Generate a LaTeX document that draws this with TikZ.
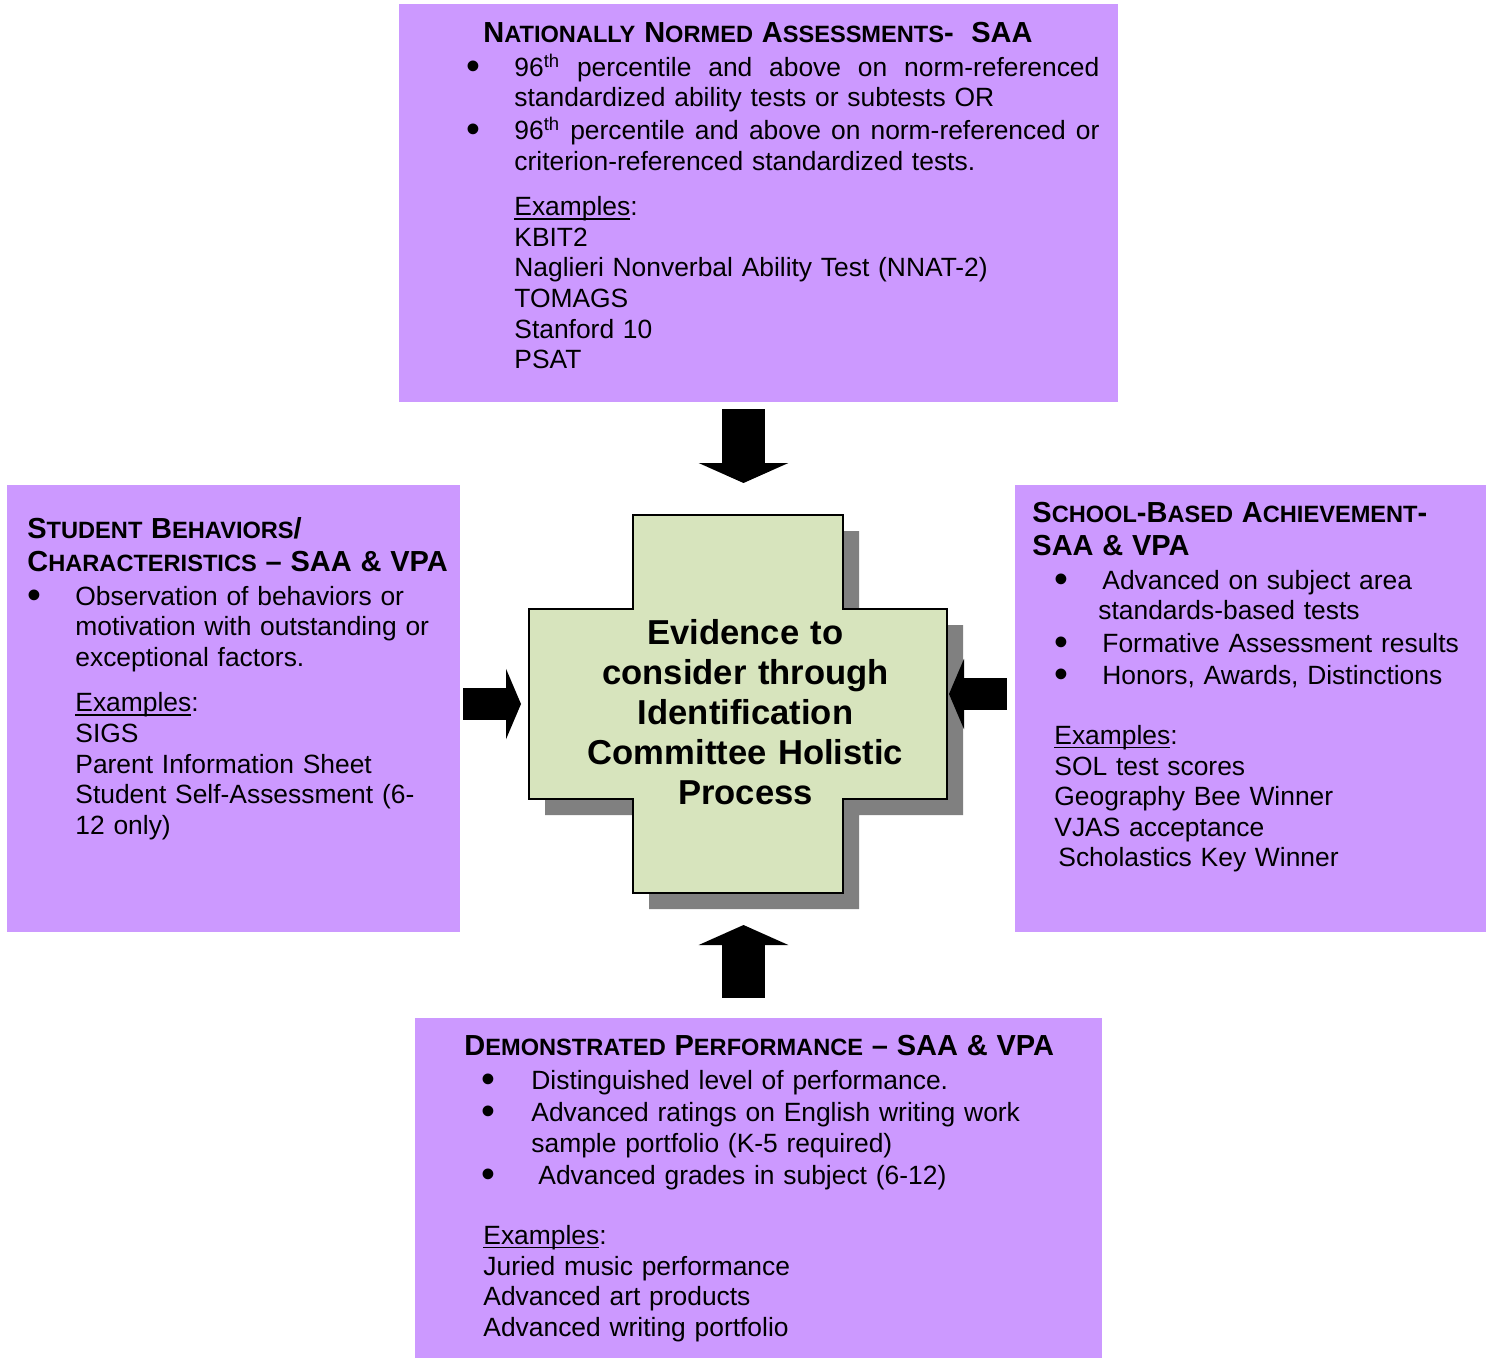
\documentclass[tikz,border=0pt]{standalone}
\usepackage{fontspec}
\setmainfont{Liberation Sans}
\usetikzlibrary{arrows.meta, shadows}
\definecolor{lilac}{HTML}{CC99FF}
\definecolor{sage}{HTML}{D7E4BD}
\definecolor{shadegray}{HTML}{808080}
\hyphenpenalty=10000 \exhyphenpenalty=10000
\newlength{\bulx}
\newlength{\bulind}
\newsavebox{\ulbox}
\newcommand{\ulw}[1]{\sbox{\ulbox}{#1}\rlap{\rule[-2pt]{\wd\ulbox}{0.7pt}}\usebox{\ulbox}}
\newcommand{\bdot}{\kern-2.5pt\smash{\raisebox{-1.5pt}{\scalebox{1.5}{\textbullet}}}}
\newcommand{\fullline}[1]{{\spaceskip=\fontdimen2\font plus 20pt\relax\makebox[\dimexpr\linewidth-\bulind\relax][s]{#1}}}
\newcommand{\sct}[2]{#1{\fontsize{11.8}{16.5}\selectfont #2}}
\newcommand{\ttl}[1]{{\fontsize{14.5}{16.5}\selectfont\bfseries #1\par}\vspace{0.7pt}}
\newcommand{\bitem}[1]{\par\vspace{1pt}\hangindent=\bulind\hangafter=1\noindent\hspace*{\bulx}\makebox[\dimexpr\bulind-\bulx\relax][l]{\bdot}#1\par}
\newcommand{\exblock}[3]{\par\vspace{#2}{\leftskip=#1\relax\noindent\ulw{Examples}:\newline #3\par}}
\tikzstyle{panel} = [rectangle, fill=lilac, draw=none, inner sep=0pt]
\tikzstyle{paneltext} = [anchor=base west, inner sep=0pt, font=\fontsize{13.2}{15.3}\selectfont]
\tikzstyle{crossline} = [draw=black, line width=0.8pt, fill=sage, general shadow={fill=shadegray, shadow xshift=8pt, shadow yshift=-8pt}]
\tikzstyle{evidtext} = [anchor=base, inner sep=0pt, text width=210pt, align=center, font=\bfseries\fontsize{17.3}{20}\selectfont]
\tikzstyle{vblock} = [line width=21.25pt, -{Triangle[length=10pt, width=44.5pt]}]
\tikzstyle{hblock} = [line width=15.75pt, -{Triangle[length=7.5pt, width=35pt]}]
\begin{document}
\begin{tikzpicture}[x=0.5pt, y=-0.5pt]
\useasboundingbox (0,0) rectangle (1491,1360);
% four boxes
\node (nnorm) [panel, minimum width=359.5pt, minimum height=199pt] at (758.5,203) {};
\node (sbeh) [panel, minimum width=226.5pt, minimum height=223.5pt] at (233.5,708.5) {};
\node (sba) [panel, minimum width=235.5pt, minimum height=223.5pt] at (1250.5,708.5) {};
\node (dperf) [panel, minimum width=343.5pt, minimum height=170pt] at (758.5,1188) {};
% centre cross
\node (cross) [minimum width=209pt, minimum height=189pt, inner sep=0pt, outer sep=0pt] at (743.5,704) {};
\coordinate (rtip) at (949,694);
\draw [crossline] (633,515) -- (843,515) -- (843,609) -- (947,609) -- (947,799) -- (843,799) -- (843,893) -- (633,893) -- (633,799) -- (529,799) -- (529,609) -- (633,609) -- cycle;
\node (evid) [evidtext] at (745.5,644) {Evidence to\\consider through\\Identification\\Committee Holistic\\Process};
% box texts
\node (nnormtxt) [paneltext, text width=314pt] at (471,42.3) {\hspace*{6pt}\ttl{\sct{N}{ATIONALLY} \sct{N}{ORMED} \sct{A}{SSESSMENTS}-\ \ SAA}%
\setlength{\bulx}{0pt}\setlength{\bulind}{21.5pt}%
\bitem{\fullline{96\textsuperscript{th} percentile and above on norm-referenced}\newline standardized ability tests or subtests OR}%
\bitem{\fullline{96\textsuperscript{th} percentile and above on norm-referenced or}\newline criterion-referenced standardized tests.}%
\exblock{21.5pt}{7.5pt}{KBIT2\newline Naglieri Nonverbal Ability Test (NNAT-2)\newline TOMAGS\newline Stanford 10\newline PSAT}};
\node (sbehtxt) [paneltext, text width=215pt] at (27,538) {\ttl{\sct{S}{TUDENT} \sct{B}{EHAVIORS}/\newline \sct{C}{HARACTERISTICS} -- SAA \& VPA}%
\setlength{\bulx}{2.5pt}\setlength{\bulind}{24pt}%
\bitem{Observation of behaviors or\newline motivation with outstanding or\newline exceptional factors.}%
\exblock{24pt}{7.5pt}{SIGS\newline Parent Information Sheet\newline Student Self-Assessment (6-\newline 12 only)}};
\node (sbatxt) [paneltext, text width=224pt] at (1032,522) {\ttl{\sct{S}{CHOOL}-\sct{B}{ASED} \sct{A}{CHIEVEMENT}-\newline SAA \& VPA}%
\setlength{\bulx}{13.5pt}\setlength{\bulind}{35pt}%
\bitem{Advanced on subject area\newline\hspace*{-2pt}standards-based tests}%
\bitem{Formative Assessment results}%
\bitem{Honors, Awards, Distinctions}%
\exblock{11pt}{14.5pt}{SOL test scores\newline Geography Bee Winner\newline VJAS acceptance\newline\hspace*{2pt}Scholastics Key Winner}};
\node (dperftxt) [paneltext, text width=316pt] at (464,1055) {\ttl{\sct{D}{EMONSTRATED} \sct{P}{ERFORMANCE} -- SAA \& VPA}%
\setlength{\bulx}{11pt}\setlength{\bulind}{33.5pt}%
\bitem{Distinguished level of performance.}%
\bitem{Advanced ratings on English writing work\newline sample portfolio (K-5 required)}%
\bitem{\hspace*{3.5pt}Advanced grades in subject (6-12)}%
\exblock{9.5pt}{14.5pt}{Juried music performance\newline Advanced art products\newline Advanced writing portfolio}};
% block arrows into the cross
\draw [vblock, shorten <=3.3pt, shorten >=16pt] (cross.north |- nnorm.south) -- (cross.north);
\draw [vblock, shorten <=10pt, shorten >=16pt] (cross.south |- dperf.north) -- (cross.south);
\draw [hblock, shorten <=1.5pt, shorten >=6.75pt] (sbeh.east |- cross.west) -- (cross.west);
\draw [hblock, shorten <=4pt] (sba.west |- rtip) -- (rtip);
\end{tikzpicture}
\end{document}
